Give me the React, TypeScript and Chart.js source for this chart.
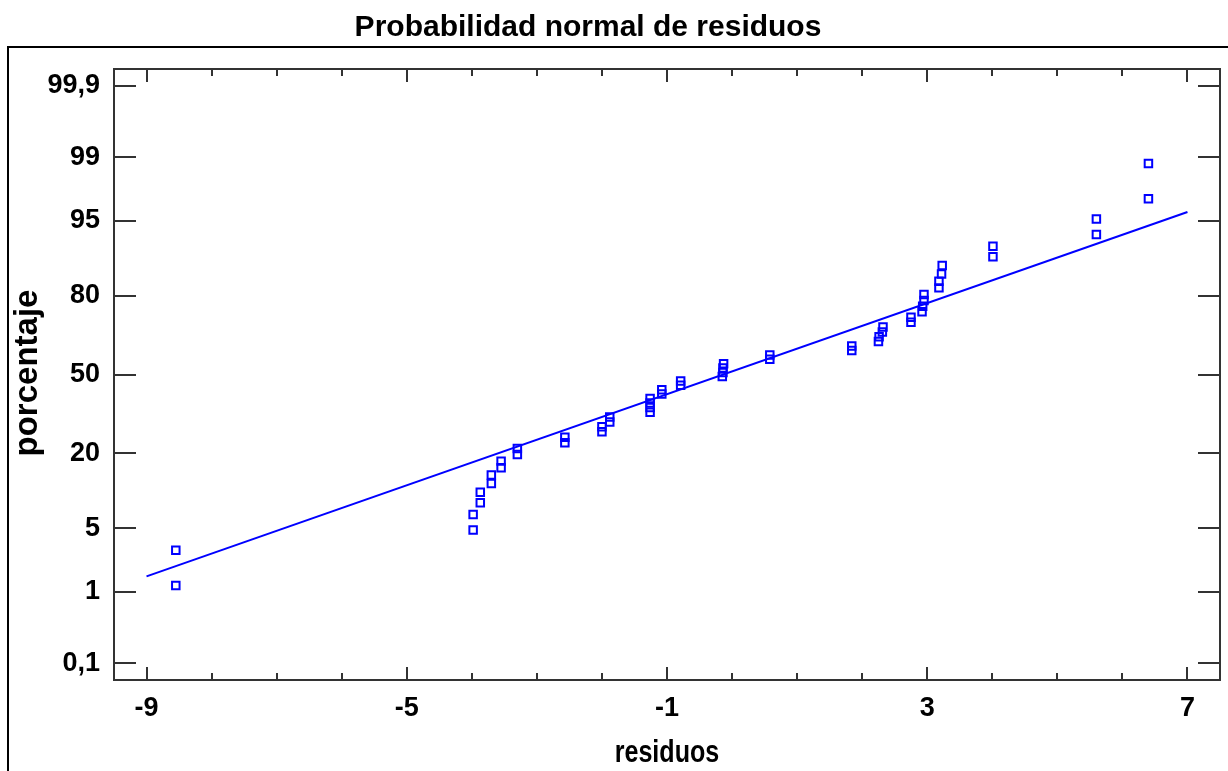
import React, { useEffect, useRef } from "react";
import {
  Chart,
  LinearScale,
  ScatterController,
  LineController,
  PointElement,
  LineElement,
} from "chart.js";

// ---------- data ----------
const TITLE = "Probabilidad normal de residuos";
const X_TITLE = "residuos";
const Y_TITLE = "porcentaje";

const RESIDUOS = [
  -8.55, -8.55, -3.98, -3.98, -3.87, -3.87, -3.7, -3.7, -3.55, -3.55,
  -3.3, -3.3, -2.57, -2.57, -2.0, -2.0, -1.88, -1.88, -1.26, -1.26,
  -1.26, -1.26, -1.08, -1.08, -0.79, -0.79, -0.15, -0.14, -0.14, -0.13,
  0.58, 0.58, 1.84, 1.84, 2.25, 2.26, 2.31, 2.32, 2.75, 2.75,
  2.92, 2.93, 2.95, 2.95, 3.18, 3.18, 3.22, 3.23, 4.01, 4.01,
  5.6, 5.6, 6.4, 6.4,
];
const PORCENTAJE = [
  1.2, 3.0, 4.8, 6.7, 8.5, 10.4, 12.2, 14.1, 15.9, 17.7,
  19.6, 21.4, 23.3, 25.1, 27.0, 28.8, 30.6, 32.5, 34.3, 36.2,
  38.0, 39.9, 41.7, 43.5, 45.4, 47.2, 49.1, 50.9, 52.8, 54.6,
  56.5, 58.3, 60.1, 62.0, 63.8, 65.7, 67.5, 69.4, 71.2, 73.0,
  74.9, 76.7, 78.6, 80.4, 82.3, 84.1, 85.9, 87.8, 89.6, 91.5,
  93.3, 95.2, 97.0, 98.8,
];

const LINE_X = [-9, 7];
const LINE_Y = [1.54, 95.9];

const X_TICKS = [-9, -5, -1, 3, 7];
const X_TICK_LABELS = ["-9", "-5", "-1", "3", "7"];
const X_MINOR_TICKS = [-9, -8, -7, -6, -5, -4, -3, -2, -1, 0, 1, 2, 3, 4, 5, 6, 7];
const Y_TICKS = [0.1, 1, 5, 20, 50, 80, 95, 99, 99.9];
const Y_TICK_LABELS = ["0,1", "1", "5", "20", "50", "80", "95", "99", "99,9"];

const X_MIN = -9.5;
const X_MAX = 7.5;
const Y_MIN = 0.054;
const Y_MAX = 99.946;

// ---------- normal probability helpers ----------
function probit(p: number): number {
  const a = [-3.969683028665376e1, 2.209460984245205e2, -2.759285104469687e2, 1.38357751867269e2, -3.066479806614716e1, 2.506628277459239];
  const b = [-5.447609879822406e1, 1.615858368580409e2, -1.556989798598866e2, 6.680131188771972e1, -1.328068155288572e1];
  const c = [-7.784894002430293e-3, -3.223964580411365e-1, -2.400758277161838, -2.549732539343734, 4.374664141464968, 2.938163982698783];
  const d = [7.784695709041462e-3, 3.224671290700398e-1, 2.445134137142996, 3.754408661907416];
  const pl = 0.02425;
  const ph = 1 - pl;
  if (p <= 0) return -8;
  if (p >= 1) return 8;
  if (p < pl) {
    const q = Math.sqrt(-2 * Math.log(p));
    return (((((c[0] * q + c[1]) * q + c[2]) * q + c[3]) * q + c[4]) * q + c[5]) /
      ((((d[0] * q + d[1]) * q + d[2]) * q + d[3]) * q + 1);
  }
  if (p <= ph) {
    const q = p - 0.5;
    const r = q * q;
    return ((((((a[0] * r + a[1]) * r + a[2]) * r + a[3]) * r + a[4]) * r + a[5]) * q) /
      (((((b[0] * r + b[1]) * r + b[2]) * r + b[3]) * r + b[4]) * r + 1);
  }
  const q = Math.sqrt(-2 * Math.log(1 - p));
  return -(((((c[0] * q + c[1]) * q + c[2]) * q + c[3]) * q + c[4]) * q + c[5]) /
    ((((d[0] * q + d[1]) * q + d[2]) * q + d[3]) * q + 1);
}

function normCdf(z: number): number {
  const t = 1 / (1 + 0.3275911 * Math.abs(z) / Math.SQRT2);
  const y = 1 - (((((1.061405429 * t - 1.453152027) * t + 1.421413741) * t - 0.284496736) * t + 0.254829592) * t) * Math.exp(-(z * z) / 2);
  return z >= 0 ? (1 + y) / 2 : (1 - y) / 2;
}

// ---------- custom probability (probit) scale ----------
class ProbitScale extends LinearScale {
  static id = "probit";
  static defaults = {};
  determineDataLimits() {
    const o: any = (this as any).options;
    (this as any).min = o.min;
    (this as any).max = o.max;
  }
  buildTicks() {
    return Y_TICKS.map((value) => ({ value }));
  }
  getPixelForValue(value: number) {
    const s: any = this;
    const z0 = probit(s.min / 100);
    const z1 = probit(s.max / 100);
    return s.getPixelForDecimal((probit(value / 100) - z0) / (z1 - z0));
  }
  getValueForPixel(pixel: number) {
    const s: any = this;
    const z0 = probit(s.min / 100);
    const z1 = probit(s.max / 100);
    const dec = s.getDecimalForPixel(pixel);
    return normCdf(z0 + dec * (z1 - z0)) * 100;
  }
}

Chart.register(LinearScale, ScatterController, LineController, PointElement, LineElement, ProbitScale as any);

const FONT = '"Liberation Sans", Arial, Helvetica, sans-serif';

const decorPlugin = {
  id: "decor",
  beforeDatasetsDraw(chart: any) {
    const { ctx, chartArea } = chart;
    const { left, top, right, bottom } = chartArea;
    const xs = chart.scales.x;
    const ys = chart.scales.y;
    ctx.save();
    ctx.strokeStyle = "#333333";
    ctx.lineWidth = 2;
    ctx.beginPath();
    X_MINOR_TICKS.forEach((v) => {
      const px = Math.round(xs.getPixelForValue(v));
      const len = X_TICKS.includes(v) ? 13 : 7;
      ctx.moveTo(px, bottom);
      ctx.lineTo(px, bottom - len);
      ctx.moveTo(px, top);
      ctx.lineTo(px, top + len);
    });
    Y_TICKS.forEach((v) => {
      const py = Math.round(ys.getPixelForValue(v));
      ctx.moveTo(left, py);
      ctx.lineTo(left + 22, py);
      ctx.moveTo(right, py);
      ctx.lineTo(right - 22, py);
    });
    ctx.stroke();
    ctx.strokeRect(left, top, right - left, bottom - top);
    ctx.restore();
  },
  afterDraw(chart: any) {
    const { ctx, chartArea } = chart;
    const { left, right } = chartArea;
    ctx.save();
    // outer frame
    ctx.strokeStyle = "#000000";
    ctx.lineWidth = 2;
    ctx.strokeRect(8, 47, 1400, 900);
    ctx.fillStyle = "#000000";
    // title
    ctx.font = `bold 30px ${FONT}`;
    ctx.textAlign = "center";
    ctx.textBaseline = "alphabetic";
    ctx.fillText(TITLE, 588, 36);
    // x title
    ctx.save();
    ctx.translate((left + right) / 2, 762);
    ctx.scale(0.81, 1);
    ctx.font = `bold 31px ${FONT}`;
    ctx.fillText(X_TITLE, 0, 0);
    ctx.restore();
    // y title
    ctx.save();
    ctx.translate(37, 373);
    ctx.rotate(-Math.PI / 2);
    ctx.font = `bold 33px ${FONT}`;
    ctx.fillText(Y_TITLE, 0, 0);
    ctx.restore();
    ctx.restore();
  },
};

export default function App() {
  const ref = useRef<HTMLCanvasElement>(null);
  useEffect(() => {
    if (!ref.current) return;
    const chart = new Chart(ref.current, {
      type: "scatter",
      data: {
        datasets: [
          {
            type: "line",
            label: "ajuste",
            data: LINE_X.map((x, i) => ({ x, y: LINE_Y[i] })),
            borderColor: "#0000ff",
            borderWidth: 2,
            pointRadius: 0,
            fill: false,
            order: 2,
          } as any,
          {
            type: "scatter",
            label: "residuos",
            data: RESIDUOS.map((x, i) => ({ x, y: PORCENTAJE[i] })),
            pointStyle: "rect",
            pointRadius: 5.3,
            borderWidth: 2,
            borderColor: "#0000ff",
            backgroundColor: "rgba(0,0,0,0)",
            order: 1,
          } as any,
        ],
      },
      options: {
        animation: false,
        responsive: true,
        maintainAspectRatio: false,
        events: [],
        layout: { padding: { top: 69, right: 8, left: 0, bottom: 0 } },
        plugins: {
          legend: { display: false },
          tooltip: { enabled: false },
          title: { display: false },
        },
        scales: {
          x: {
            type: "linear",
            min: X_MIN,
            max: X_MAX,
            grid: { display: false, drawTicks: false },
            border: { display: false },
            afterBuildTicks: (s: any) => {
              s.ticks = X_TICKS.map((value) => ({ value }));
            },
            afterFit: (s: any) => {
              s.height = 91;
            },
            ticks: {
              autoSkip: false,
              maxRotation: 0,
              padding: 12,
              color: "#000000",
              font: { family: FONT, size: 27, weight: "bold" },
              callback: (v: any) => X_TICK_LABELS[X_TICKS.indexOf(Number(v))] ?? "",
            },
          },
          y: {
            type: "probit" as any,
            min: Y_MIN,
            max: Y_MAX,
            grid: { display: false, drawTicks: false },
            border: { display: false },
            afterFit: (s: any) => {
              s.width = 114;
            },
            ticks: {
              autoSkip: false,
              padding: 14,
              color: "#000000",
              font: { family: FONT, size: 27, weight: "bold" },
              callback: (v: any) => Y_TICK_LABELS[Y_TICKS.indexOf(Number(v))] ?? "",
            },
          } as any,
        },
      },
      plugins: [decorPlugin],
    });
    return () => chart.destroy();
  }, []);
  return (
    <div style={{ position: "absolute", left: 0, top: 0, width: 1228, height: 771, background: "#ffffff" }}>
      <canvas ref={ref} />
    </div>
  );
}
